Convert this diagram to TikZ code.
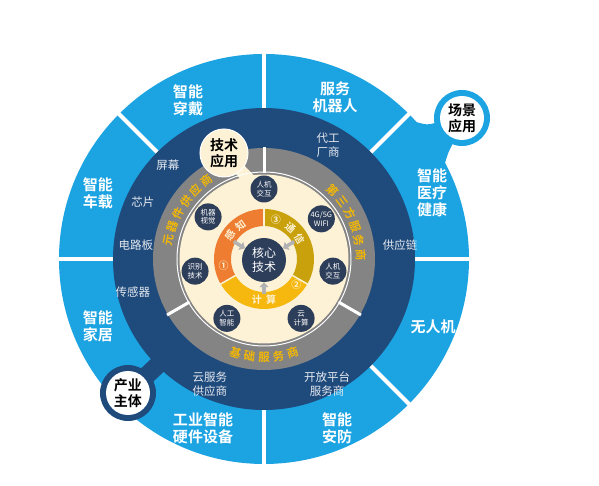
\documentclass[tikz,border=0pt]{standalone}
\usepackage{fontspec}
\setmainfont{Noto Sans CJK SC}[BoldFont={Noto Sans CJK SC Bold}]
\usetikzlibrary{arrows.meta}
\definecolor{skyring}{HTML}{1BA3E2}
\definecolor{navyring}{HTML}{1F4A7C}
\definecolor{grayring}{HTML}{848484}
\definecolor{creamin}{HTML}{FDF2D5}
\definecolor{orangeseg}{HTML}{EE7D31}
\definecolor{goldseg}{HTML}{C9A10C}
\definecolor{yellowseg}{HTML}{F6B80F}
\definecolor{dotnavy}{HTML}{2D3E5A}
\definecolor{ringtext}{HTML}{F2B705}
\tikzset{
  outtext/.style={text=white,font=\bfseries\fontsize{15}{17}\selectfont,align=center,inner sep=0pt},
  midtext/.style={text=white!88!navyring,font=\fontsize{11.5}{14}\selectfont,align=center,inner sep=0pt},
  techdot/.style={circle,fill=dotnavy,minimum size=27pt,inner sep=0pt,text=white,font=\fontsize{7.5}{8.5}\selectfont,align=center},
  bubble/.style={circle,fill=white,minimum size=46pt,inner sep=0pt,font=\bfseries\fontsize{14}{16}\selectfont,align=center},
  arctext/.style={text=ringtext,font=\bfseries\fontsize{11.5}{11.5}\selectfont,inner sep=0pt},
  segtext/.style={text=creamin,font=\bfseries\fontsize{10}{10}\selectfont,inner sep=0pt},
  feedarrow/.style={-{Triangle[length=5pt,width=9pt]},line width=3.5pt,draw=gray!60}
}
\begin{document}
\begin{tikzpicture}[x=1pt,y=1pt]
\useasboundingbox[fill=white](-264,-227)rectangle(335,259);
% outer ring: scenes
\fill[skyring](0,0)circle(205);
\fill[skyring](198,141)circle(28);
\fill[skyring](140,140)--(152,137)..controls(163,134)..(171,136)--(189,116)..controls(184,106)..(181,96)--(170,95)--cycle;
\foreach \a in{0,45,...,315}
  \draw[white,line width=4pt](\a:150)--(\a:207);
% middle ring: industry
\fill[navyring](-136,-134)circle(28);
\draw[navyring,line width=18pt](-136,-134)--(225:145);
\fill[navyring](0,0)circle(151);
\fill[grayring](0,0)circle(111);
\draw[creamin,line width=12pt](-40,106)--(100:80);
\foreach \a in{90,210,330}
  \draw[white,line width=3pt](\a:86)--(\a:112);
\draw[white,line width=1pt](0,0)circle(87);
\fill[creamin](0,0)circle(84.5);
% inner ring: core
\fill[orangeseg](90:50)arc[start angle=90,end angle=210,radius=50]--(210:33)arc[start angle=210,end angle=90,radius=33]--cycle;
\fill[yellowseg](210:50)arc[start angle=210,end angle=330,radius=50]--(330:33)arc[start angle=330,end angle=210,radius=33]--cycle;
\fill[goldseg](-30:50)arc[start angle=-30,end angle=90,radius=50]--(90:33)arc[start angle=90,end angle=-30,radius=33]--cycle;
\foreach \a in{90,210,330}
  \draw[creamin,line width=1.5pt](\a:32)--(\a:51);
\node[circle,fill=dotnavy,minimum size=44pt,inner sep=0pt,text=white,font=\fontsize{12}{14}\selectfont,align=center](core)at(0,-1){核心\\技术};
\coordinate(senseIn)at(150:35);
\coordinate(linkIn)at(30:35);
\coordinate(computeIn)at(270:35);
\draw[feedarrow](senseIn)--(core);
\draw[feedarrow](linkIn)--(core);
\draw[feedarrow](computeIn)--(core);
\node[segtext,rotate=55](sense1)at(145:41){感};
\node[segtext,rotate=35](sense2)at(125:41){知};
\node[segtext,rotate=-40](link1)at(50:41){通};
\node[segtext,rotate=-60](link2)at(30:41){信};
\node[segtext](compute1)at(-100:41){计};
\node[segtext](compute2)at(-80:41){算};
\node[segtext](n1)at(190:41){①};
\node[segtext](n2)at(-38:41){②};
\node[segtext](n3)at(73:41){③};
% technologies
\node[techdot](hci1)at(90:70){人机\\交互};
\node[techdot](wifi)at(35:70){4G/5G\\WIFI};
\node[techdot](hci2)at(-10:70){人机\\交互};
\node[techdot](cloud)at(-58:70){云\\计算};
\node[techdot](ai)at(238:70){人工\\智能};
\node[techdot](recog)at(190:70){识别\\技术};
\node[techdot](vision)at(143:70){机器\\视觉};
% providers on the gray ring
\foreach \ch[count=\i,evaluate=\i as \ang using 177.5-8.5*\i]in{元,器,件,供,应,商}
  \node[arctext,rotate=\ang-90](parts\i)at(\ang:97){\ch};
\foreach \ch[count=\i,evaluate=\i as \ang using 53.5-8.5*\i]in{第,三,方,服,务,商}
  \node[arctext,rotate=\ang-90](third\i)at(\ang:97){\ch};
\foreach \ch[count=\i,evaluate=\i as \ang using -115.5+8.5*\i]in{基,础,服,务,商}
  \node[arctext,rotate=\ang+90](base\i)at(\ang:98){\ch};
% industry bodies
\node[midtext](screen)at(-96,94){屏幕};
\node[midtext](chip)at(-121,57){芯片};
\node[midtext](board)at(-128,14){电路板};
\node[midtext](sensor)at(-131,-33){传感器};
\node[midtext](cloudsp)at(-54,-125){云服务\\供应商};
\node[midtext](openpf)at(63,-125){开放平台\\服务商};
\node[midtext](supply)at(136,14){供应链};
\node[midtext](oem)at(64,114){代工\\厂商};
% scenes
\node[outtext](wear)at(-76,159){智能\\穿戴};
\node[outtext](robot)at(71,162){服务\\机器人};
\node[outtext](medical)at(168,66){智能\\医疗\\健康};
\node[outtext](drone)at(169,-68){无人机};
\node[outtext](security)at(73,-169){智能\\安防};
\node[outtext](factory)at(-61,-169){工业智能\\硬件设备};
\node[outtext](home)at(-166,-67){智能\\家居};
\node[outtext](car)at(-166,66){智能\\车载};
% bubbles
\node[bubble,fill=creamin,draw=white,line width=1pt,minimum size=48pt](techapp)at(-40,106){技术\\应用};
\node[bubble,minimum size=44pt](scene)at(198,141){场景\\应用};
\node[bubble,minimum size=44pt](body)at(-136,-134){产业\\主体};
\end{tikzpicture}
\end{document}
